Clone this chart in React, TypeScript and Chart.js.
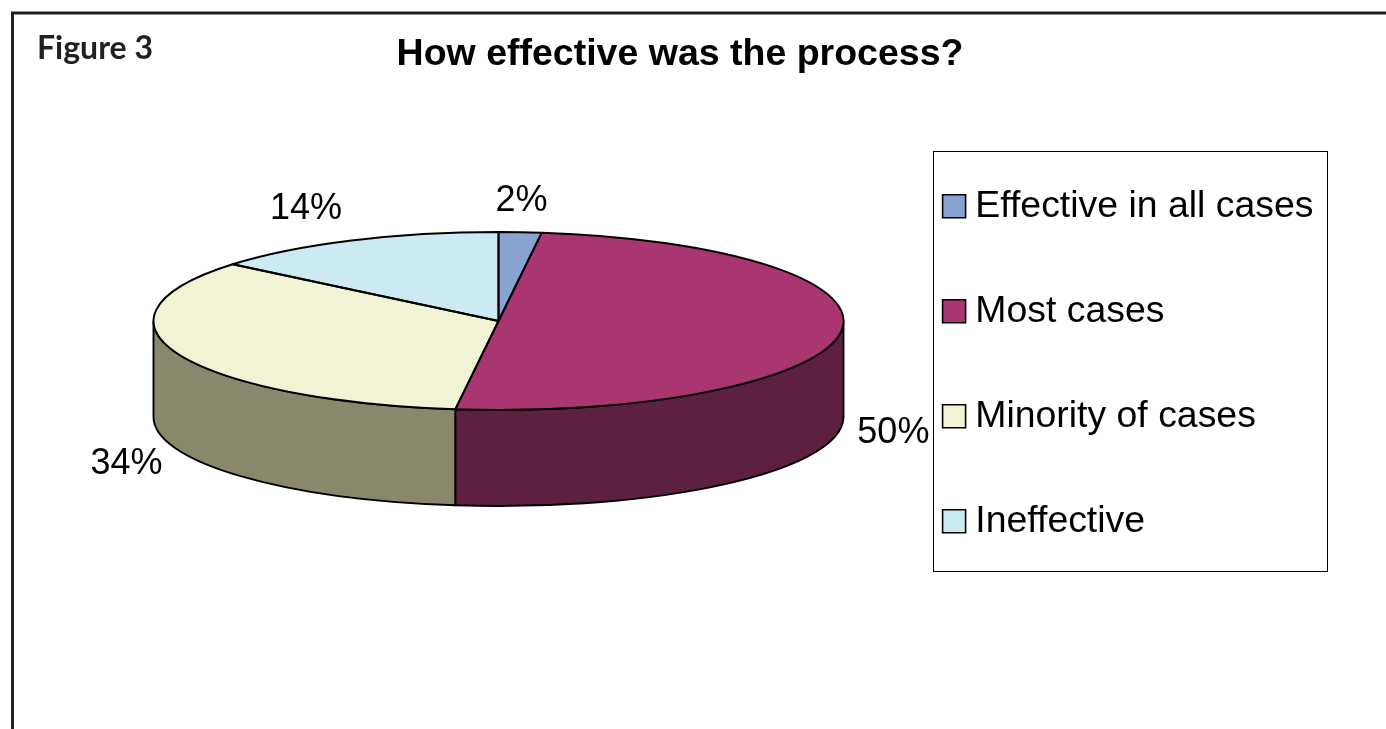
import React, { useEffect, useRef } from "react";
import { Chart, registerables } from "chart.js";

Chart.register(...registerables);

const categories = ["Effective in all cases", "Most cases", "Minority of cases", "Ineffective"];
const values = [2, 50, 34, 14];
const topColors = ["#8AA2D2", "#A93671", "#F2F3D5", "#CCEAF2"];
const sideColors = ["#45516A", "#5E2041", "#8A886C", "#66757A"];

const TITLE = "How effective was the process?";
const FIGURE = "Figure 3";
const SANS = "'Liberation Sans', Arial, sans-serif";
const INK = "#000000";
const FRAME = "#231f20";

const CX = 498.5;
const CY = 321;
const RX = 345;
const RY = 89;
const DEPTH = 96;
const OUTLINE = 1.9;

const pie3d = {
  id: "pie3d",
  beforeDraw(chart: any) {
    const { ctx } = chart;
    ctx.save();
    ctx.strokeStyle = FRAME;
    ctx.lineWidth = 3;
    ctx.beginPath();
    ctx.moveTo(12.5, 729);
    ctx.lineTo(12.5, 13);
    ctx.lineTo(1386, 13);
    ctx.stroke();
    ctx.strokeStyle = "#000000";
    ctx.lineWidth = 1;
    ctx.strokeRect(933.5, 151.5, 394, 420);
    ctx.restore();
  },
  afterLayout(chart: any) {
    const t = chart.titleBlock;
    t.left = 0;
    t.right = 1360;
    t.top = 22;
    t.bottom = t.top + 65;
    const sub = chart.boxes.find((b: any) => b.options && b.options.text === FIGURE);
    if (sub) {
      sub.left = 37;
      sub.right = 400;
      sub.top = 49 - 19.2;
      sub.bottom = sub.top + 38.4;
    }
    const l = chart.legend;
    l.left = 884;
    l.right = 1386;
    l.top = 120;
    l.bottom = 729;
  },
  beforeDatasetsDraw(chart: any) {
    const { ctx } = chart;
    const arcs = chart.getDatasetMeta(0).data;
    ctx.save();
    ctx.lineJoin = "round";
    ctx.lineWidth = OUTLINE;
    ctx.strokeStyle = "#000000";
    arcs.forEach((arc: any, i: number) => {
      const a = Math.max(arc.startAngle, 0);
      const b = Math.min(arc.endAngle, Math.PI);
      if (b <= a) return;
      ctx.beginPath();
      ctx.ellipse(CX, CY, RX, RY, 0, a, b);
      ctx.lineTo(CX + RX * Math.cos(b), CY + RY * Math.sin(b) + DEPTH);
      ctx.ellipse(CX, CY + DEPTH, RX, RY, 0, b, a, true);
      ctx.closePath();
      ctx.fillStyle = sideColors[i];
      ctx.fill();
      ctx.stroke();
    });
    ctx.restore();
    const R = arcs[0].outerRadius;
    ctx.save();
    ctx.translate(CX, CY);
    ctx.scale(RX / R, RY / R);
    ctx.translate(-arcs[0].x, -arcs[0].y);
  },
  afterDatasetsDraw(chart: any) {
    const { ctx } = chart;
    ctx.restore();
    const arcs = chart.getDatasetMeta(0).data;
    ctx.save();
    ctx.lineJoin = "round";
    ctx.lineWidth = OUTLINE;
    ctx.strokeStyle = "#000000";
    arcs.forEach((arc: any) => {
      ctx.beginPath();
      ctx.moveTo(CX, CY);
      ctx.ellipse(CX, CY, RX, RY, 0, arc.startAngle, arc.endAngle);
      ctx.closePath();
      ctx.stroke();
    });
    ctx.font = `36px ${SANS}`;
    ctx.fillStyle = INK;
    ctx.textAlign = "center";
    ctx.textBaseline = "middle";
    arcs.forEach((arc: any, i: number) => {
      const mid = (arc.startAngle + arc.endAngle) / 2;
      const sin = Math.sin(mid);
      const cos = Math.cos(mid);
      let nx = 0;
      let ny = 0;
      if (cos < 0 && sin < 0) nx = -23;
      if (cos > 0 && sin < 0) {
        nx = -2;
        ny = 4;
      }
      if (sin > 0) ny = 1;
      if (cos < 0 && sin > 0) nx = -2;
      const x = CX + (RX + 53) * cos + nx;
      const y = CY + (RY + 35) * sin + (sin > 0 ? DEPTH : 0) + ny;
      ctx.fillText(`${values[i]}%`, x, y);
    });
    ctx.restore();
  },
};

export default function App() {
  const ref = useRef<HTMLCanvasElement>(null);
  useEffect(() => {
    const base = (Chart as any).overrides.doughnut.plugins.legend.labels.generateLabels;
    const chart = new Chart(ref.current as HTMLCanvasElement, {
      type: "pie",
      data: {
        labels: categories,
        datasets: [
          {
            data: values,
            backgroundColor: topColors,
            borderWidth: 0,
            clip: false,
          } as any,
        ],
      },
      plugins: [pie3d],
      options: {
        responsive: false,
        animation: false,
        devicePixelRatio: 1,
        plugins: {
          tooltip: { enabled: false },
          title: {
            display: true,
            text: TITLE,
            align: "center",
            color: "#000000",
            font: { family: SANS, size: 37.5, weight: "bold" },
          },
          subtitle: {
            display: true,
            text: FIGURE,
            align: "start",
            color: FRAME,
            font: { family: "Lato", size: 32, weight: "bold" },
          },
          legend: {
            position: "right",
            align: "start",
            labels: {
              usePointStyle: true,
              pointStyle: "rect",
              boxWidth: 5,
              boxHeight: 23,
              padding: 67.6,
              color: INK,
              font: { family: SANS, size: 37.4 },
              generateLabels(c: any) {
                return base(c).map((item: any) => ({ ...item, strokeStyle: "#000000", lineWidth: 1.6 }));
              },
            },
          },
        },
      } as any,
    });
    return () => chart.destroy();
  }, []);
  return (
    <canvas
      ref={ref}
      width={1386}
      height={729}
      style={{ position: "absolute", left: 0, top: 0, width: 1386, height: 729, display: "block" }}
    />
  );
}
